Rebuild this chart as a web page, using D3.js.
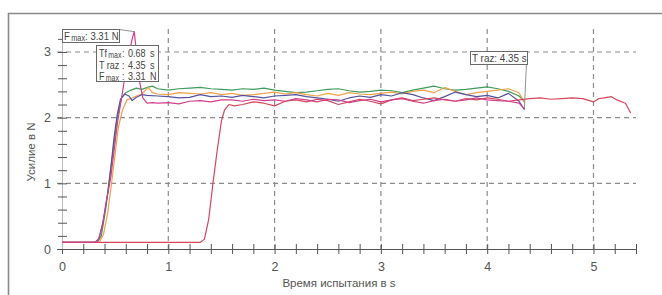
<!DOCTYPE html>
<html>
<head>
<meta charset="utf-8">
<script src="https://cdn.jsdelivr.net/npm/d3@7"></script>
<style>
  body { margin: 0; background: #fff; }
  svg { display: block; font-family: "Liberation Sans", Arial, sans-serif; }
</style>
</head>
<body>
<script>
const width = 662;
const height = 295;

// time (s), force (N)
const seriesMagenta = [[0,0.1],[0.3,0.1],[0.34,0.13],[0.38,0.35],[0.42,0.75],[0.46,1.1],[0.49,1.5],[0.52,1.9],[0.55,2.2],[0.59,2.6],[0.63,2.95],[0.66,3.2],[0.68,3.31],[0.7,3.0],[0.73,2.55],[0.76,2.3],[0.8,2.22],[0.85,2.23],[0.9,2.22],[1.0,2.23],[1.1,2.21],[1.2,2.25],[1.3,2.26],[1.4,2.24],[1.5,2.27],[1.6,2.27],[1.7,2.25],[1.8,2.28],[1.9,2.26],[2.0,2.27],[2.1,2.25],[2.2,2.29],[2.3,2.27],[2.4,2.24],[2.5,2.28],[2.6,2.27],[2.7,2.23],[2.8,2.26],[2.9,2.28],[3.0,2.24],[3.1,2.27],[3.2,2.29],[3.3,2.25],[3.4,2.22],[3.5,2.26],[3.6,2.28],[3.7,2.25],[3.8,2.27],[3.9,2.3],[4.0,2.27],[4.1,2.26],[4.2,2.25],[4.3,2.22],[4.35,2.13]];
const seriesBlue = [[0,0.1],[0.31,0.1],[0.35,0.16],[0.39,0.45],[0.43,0.85],[0.46,1.25],[0.49,1.7],[0.52,2.05],[0.55,2.28],[0.59,2.36],[0.63,2.33],[0.66,2.26],[0.7,2.31],[0.75,2.35],[0.8,2.34],[0.9,2.33],[1.0,2.32],[1.1,2.3],[1.2,2.31],[1.3,2.35],[1.4,2.32],[1.5,2.33],[1.6,2.31],[1.7,2.34],[1.8,2.32],[1.9,2.3],[2.0,2.33],[2.1,2.34],[2.2,2.35],[2.3,2.32],[2.4,2.3],[2.5,2.28],[2.6,2.25],[2.7,2.3],[2.8,2.33],[2.9,2.31],[3.0,2.35],[3.1,2.33],[3.2,2.38],[3.3,2.35],[3.4,2.3],[3.5,2.26],[3.6,2.32],[3.7,2.39],[3.8,2.35],[3.9,2.32],[4.0,2.34],[4.1,2.3],[4.2,2.37],[4.3,2.25],[4.35,2.12]];
const seriesGreen = [[0,0.1],[0.33,0.1],[0.37,0.2],[0.41,0.6],[0.45,1.1],[0.49,1.6],[0.52,2.0],[0.56,2.3],[0.6,2.38],[0.65,2.42],[0.7,2.45],[0.75,2.43],[0.8,2.46],[0.85,2.48],[0.9,2.44],[1.0,2.42],[1.1,2.44],[1.2,2.45],[1.3,2.46],[1.4,2.44],[1.5,2.43],[1.6,2.42],[1.7,2.44],[1.8,2.43],[1.9,2.45],[2.0,2.42],[2.1,2.4],[2.2,2.38],[2.3,2.39],[2.4,2.41],[2.5,2.43],[2.6,2.44],[2.7,2.41],[2.8,2.39],[2.9,2.4],[3.0,2.42],[3.1,2.41],[3.2,2.38],[3.3,2.42],[3.4,2.45],[3.5,2.48],[3.6,2.44],[3.7,2.42],[3.8,2.43],[3.9,2.45],[4.0,2.47],[4.1,2.44],[4.2,2.4],[4.3,2.33],[4.35,2.25]];
const seriesOrange = [[0,0.1],[0.35,0.1],[0.39,0.22],[0.43,0.55],[0.47,1.05],[0.5,1.45],[0.53,1.85],[0.57,2.12],[0.61,2.27],[0.66,2.3],[0.7,2.33],[0.75,2.36],[0.81,2.46],[0.85,2.38],[0.9,2.36],[1.0,2.35],[1.1,2.38],[1.2,2.37],[1.3,2.36],[1.4,2.38],[1.5,2.35],[1.6,2.37],[1.7,2.34],[1.8,2.35],[1.9,2.37],[2.0,2.39],[2.1,2.36],[2.2,2.38],[2.3,2.35],[2.4,2.33],[2.5,2.37],[2.6,2.34],[2.7,2.38],[2.8,2.36],[2.9,2.35],[3.0,2.37],[3.1,2.39],[3.2,2.36],[3.3,2.4],[3.4,2.42],[3.5,2.38],[3.6,2.46],[3.7,2.4],[3.8,2.35],[3.9,2.38],[4.0,2.4],[4.1,2.42],[4.2,2.44],[4.3,2.38],[4.35,2.23]];
const seriesRed = [[0,0.1],[1.3,0.1],[1.34,0.15],[1.38,0.45],[1.42,1.0],[1.46,1.5],[1.5,1.95],[1.53,2.12],[1.57,2.2],[1.62,2.18],[1.7,2.2],[1.8,2.24],[1.9,2.22],[2.0,2.18],[2.1,2.25],[2.2,2.27],[2.3,2.24],[2.4,2.28],[2.5,2.26],[2.6,2.2],[2.7,2.24],[2.8,2.28],[2.9,2.25],[3.0,2.21],[3.1,2.27],[3.2,2.3],[3.3,2.26],[3.4,2.28],[3.5,2.3],[3.6,2.27],[3.7,2.25],[3.8,2.29],[3.9,2.27],[4.0,2.3],[4.1,2.28],[4.2,2.25],[4.3,2.27],[4.4,2.29],[4.5,2.3],[4.6,2.28],[4.7,2.29],[4.8,2.3],[4.9,2.29],[5.0,2.24],[5.05,2.29],[5.1,2.3],[5.17,2.32],[5.22,2.27],[5.3,2.22],[5.35,2.07]];

const series = [
  {name: "green", color: "#3f9c5f", values: seriesGreen},
  {name: "orange", color: "#efa24a", values: seriesOrange},
  {name: "blue", color: "#54529e", values: seriesBlue},
  {name: "red", color: "#d8475c", values: seriesRed},
  {name: "magenta", color: "#d2408c", values: seriesMagenta}
];

const xTicks = d3.range(0, 5.41, 0.2);
const yTicks = d3.range(0, 3.21, 0.2);
const xGrid = [1, 2, 3, 4, 5];
const yGrid = [1, 2, 3];

const x = d3.scaleLinear().domain([0, 5.4]).range([62, 636]);
const y = d3.scaleLinear().domain([0, 3.35]).range([249, 29]);

const svg = d3.select(document.body).append("svg")
  .attr("width", width)
  .attr("height", height);

// outer frame
svg.append("path")
  .attr("d", "M8.5,296V13.5H662")
  .attr("fill", "none")
  .attr("stroke", "#8a8a8a")
  .attr("stroke-width", 1.6);

// dashed grid
const grid = svg.append("g")
  .attr("stroke", "#8c8c8c")
  .attr("stroke-width", 1.2)
  .attr("stroke-dasharray", "5,4");
grid.selectAll(".gx").data(xGrid).join("line")
  .attr("x1", d => x(d)).attr("x2", d => x(d))
  .attr("y1", y(3.35)).attr("y2", y(0));
grid.selectAll(".gy").data(yGrid).join("line")
  .attr("x1", 57).attr("x2", x(5.4))
  .attr("y1", d => y(d)).attr("y2", d => y(d));

// x axis
const xAxis = svg.append("g")
  .attr("transform", `translate(0,${y(0)})`)
  .call(d3.axisBottom(x).tickValues(xTicks).tickSizeOuter(0).tickSize(5)
    .tickFormat(d => Math.abs(d - Math.round(d)) < 1e-6 ? d3.format("d")(Math.round(d)) : ""));
xAxis.select(".domain").attr("stroke", "#555").attr("d", `M57,0.5H${x(5.4)}`);
xAxis.selectAll(".tick line").attr("y1", -5).attr("y2", 5).attr("stroke", "#555");
xAxis.selectAll(".tick text").attr("y", 13).attr("fill", "#555").attr("font-size", 12.5)
  .attr("font-family", "Liberation Sans, Arial, sans-serif");

// y axis
const yAxis = svg.append("g")
  .attr("transform", `translate(${x(0)},0)`)
  .call(d3.axisLeft(y).tickValues(yTicks).tickSizeOuter(0).tickSize(4)
    .tickFormat(d => Math.abs(d - Math.round(d)) < 1e-6 ? d3.format("d")(Math.round(d)) : ""));
yAxis.select(".domain").attr("stroke", "#bbb").attr("d", `M0.5,${y(0)}V${y(3.2)}`);
yAxis.selectAll(".tick line").attr("x1", -4).attr("x2", 5).attr("stroke", "#555");
yAxis.selectAll(".tick text").attr("x", -11).attr("fill", "#555").attr("font-size", 12.5)
  .attr("font-family", "Liberation Sans, Arial, sans-serif");

// axis titles
svg.append("text")
  .attr("x", 339).attr("y", 287)
  .attr("text-anchor", "middle")
  .attr("fill", "#555").attr("font-size", 11.5)
  .text("Время испытания в s");
svg.append("text")
  .attr("transform", "translate(35,152) rotate(-90)")
  .attr("text-anchor", "middle")
  .attr("fill", "#555").attr("font-size", 11.5)
  .text("Усилие в N");

// curves
const line = d3.line().x(d => x(d[0])).y(d => y(d[1]));
svg.append("g").attr("fill", "none").attr("stroke-width", 1.2)
  .selectAll("path").data(series).join("path")
  .attr("stroke", d => d.color)
  .attr("stroke-linejoin", "round")
  .attr("d", d => line(d.values));

// annotations
const peak = seriesMagenta.reduce((a, b) => b[1] > a[1] ? b : a);
const end = seriesMagenta[seriesMagenta.length - 1];
const ann = svg.append("g")
  .attr("font-size", 11)
  .attr("fill", "#444");

function box(g, bx, by, bw, bh) {
  g.append("rect").attr("x", bx + 0.5).attr("y", by + 0.5).attr("width", bw).attr("height", bh)
    .attr("fill", "#fff").attr("stroke", "#6a6a6a").attr("stroke-width", 1);
}
// condensed text piece: main part + optional subscript
function label(tx, ty, main, sub, rest, sx = 0.82) {
  const t = ann.append("text").attr("transform", `translate(${tx},${ty}) scale(${sx},1)`);
  t.append("tspan").text(main);
  if (sub) t.append("tspan").attr("font-size", 8.5).attr("dx", 1.5).attr("dy", 1).text(sub);
  if (rest) t.append("tspan").attr("dy", sub ? -1 : 0).text(rest);
  return t;
}

// Fmax box
ann.append("line")
  .attr("x1", 119).attr("y1", 29.5).attr("x2", x(peak[0])).attr("y2", y(peak[1]))
  .attr("stroke", "#777").attr("stroke-width", 0.8);
box(ann, 62, 29, 57, 13);
label(64, 40, "F", "max", ": 3.31 N", 0.87);

// summary box
box(ann, 96, 45, 62, 36);
const rows = [["Tf", "max", "0.68", "s"], ["T raz", "", "4.35", "s"], ["F", "max", "3.31", "N"]];
rows.forEach((r, i) => {
  const yy = 57 + i * 11.5;
  label(99, yy, r[0], r[1]);
  label(122, yy, ":");
  label(128, yy, r[2]);
  label(150, yy, r[3]);
});

// T raz box
ann.append("line")
  .attr("x1", 527).attr("y1", 51.5).attr("x2", x(end[0])).attr("y2", y(end[1]))
  .attr("stroke", "#777").attr("stroke-width", 0.8);
box(ann, 470, 51, 57, 13);
label(472, 62, "T raz: 4.35 s", null, null, 0.9);
</script>
</body>
</html>
